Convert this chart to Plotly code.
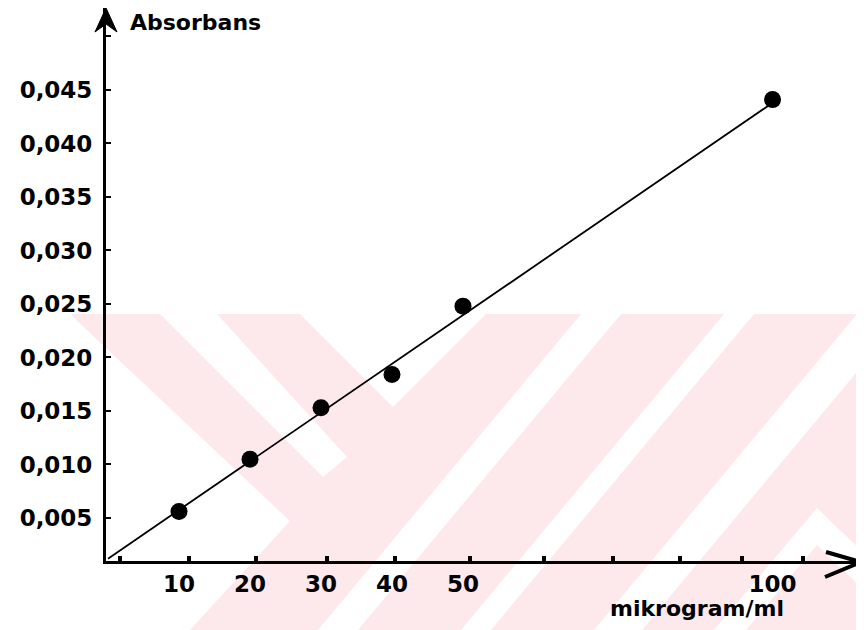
import plotly.graph_objects as go

# ---------------- data ----------------
conc = [10, 20, 30, 40, 50, 100]                       # mikrogram/ml
absorbance = [0.0056, 0.0105, 0.0153, 0.0184, 0.0248, 0.0441]
fit_conc = [0, 100]                                    # drawn calibration line
fit_abs = [0.0012, 0.0438]
x_label_conc = [10, 20, 30, 40, 50, 100]
x_label_text = ["10", "20", "30", "40", "50", "100"]
x_mark_pos = [1.7, 11.4, 20.8, 30.8, 40.4, 51.0, 61.4, 71.1, 80.6, 89.3, 97.9]
y_tick_vals = [0.005, 0.010, 0.015, 0.020, 0.025, 0.030, 0.035, 0.040, 0.045, 0.050]
y_tick_text = ["0,005", "0,010", "0,015", "0,020", "0,025", "0,030", "0,035", "0,040", "0,045", ""]

BREAK = 50      # the axis is compressed beyond 50 (broken axis)
SQUEEZE = 0.872


def axis_pos(c):
    return c if c <= BREAK else BREAK + (c - BREAK) * SQUEEZE


# ---------------- geometry (page offset of 8px body margin) ----------------
OFF = 8
W, H = 864 - OFF, 630 - OFF
L, R, T, B = 98, 6, 0, 69
PW, PH = W - L - R, H - T - B
PLOT_BOTTOM = H - B


def P(px, py):
    """page pixel -> paper coordinates"""
    return (px - OFF - L) / PW, (PLOT_BOTTOM - (py - OFF)) / PH


def path(points, close=True):
    s = ""
    for i, (px, py) in enumerate(points):
        x, y = P(px, py)
        s += ("M" if i == 0 else "L") + f"{x:.5f},{y:.5f} "
    return s + ("Z" if close else "")


font = dict(family="DejaVu Sans", size=23, color="black", weight="bold")
title_font = dict(family="DejaVu Sans", size=22, color="black", weight="bold")

fig = go.Figure()
fig.add_trace(go.Scatter(
    x=[axis_pos(c) for c in fit_conc], y=fit_abs, mode="lines",
    line=dict(color="black", width=1.8), hoverinfo="skip", showlegend=False))
fig.add_trace(go.Scatter(
    x=[axis_pos(c) for c in conc], y=absorbance, mode="markers",
    marker=dict(color="black", size=17), showlegend=False))

# ---------------- watermark (background decoration) ----------------
PINK = "#fde8ec"
shapes = [dict(type="path", xref="paper", yref="paper", layer="below",
               path=path([(72, 314), (870, 314), (870, 640), (72, 640)]),
               fillcolor=PINK, line=dict(width=0))]
whites = [
    [(160, 314), (217, 314), (347, 457), (323, 477)],
    [(72, 314), (72, 316), (290, 521), (190, 630), (190, 640), (72, 640)],
    [(300, 314), (393, 407), (486, 314)],
    [(581, 314), (621, 314), (358, 630), (318, 630)],
    [(724, 314), (754, 314), (491, 630), (461, 630)],
    [(857, 314), (905, 314), (642, 630), (594, 630)],
    [(817, 508), (870, 559), (870, 596), (817, 545), (746, 630), (714, 630)],
]
for poly in whites:
    shapes.append(dict(type="path", xref="paper", yref="paper", layer="below",
                       path=path(poly), fillcolor="white", line=dict(width=0)))

# axis arrows
shapes.append(dict(type="path", xref="paper", yref="paper", layer="above",
                   path=path([(95, 32), (106, 8), (117, 32), (106, 24)]),
                   fillcolor="black", line=dict(color="black", width=1)))
shapes.append(dict(type="path", xref="paper", yref="paper", layer="above",
                   path=path([(826, 552), (861, 562), (825, 577)], close=False),
                   line=dict(color="black", width=4)))

annotations = [
    dict(text="Absorbans", xref="paper", yref="paper", x=P(128, 0)[0], y=P(0, 23)[1],
         xanchor="left", yanchor="middle", showarrow=False, font=title_font),
    dict(text="mikrogram/ml", xref="paper", yref="paper", x=P(697, 0)[0], y=P(0, 608)[1],
         xanchor="center", yanchor="middle", showarrow=False, font=title_font),
]

xmin = -2 / 7.1
xmax = xmin + PW / 7.1
ymin = 0.00098
ymax = ymin + PH / 10700

fig.update_layout(
    width=W, height=H,
    margin=dict(l=L, r=R, t=T, b=B),
    paper_bgcolor="white", plot_bgcolor="rgba(0,0,0,0)",
    separators=",.",
    shapes=shapes, annotations=annotations,
    xaxis=dict(range=[xmin, xmax], showgrid=False, zeroline=False,
               showline=True, linecolor="black", linewidth=3,
               tickmode="array", tickvals=[axis_pos(c) for c in x_label_conc],
               ticktext=x_label_text, ticks="inside", ticklen=1,
               tickcolor="rgba(0,0,0,0)", tickfont=font,
               minor=dict(tickmode="array", tickvals=x_mark_pos, ticks="inside",
                          ticklen=5, tickwidth=4, tickcolor="black", showgrid=False)),
    yaxis=dict(range=[ymin, ymax], showgrid=False, zeroline=False,
               showline=True, linecolor="black", linewidth=3,
               tickmode="array", tickvals=y_tick_vals, ticktext=y_tick_text,
               ticks="inside", ticklen=5, tickwidth=2, tickcolor="black",
               tickfont=font, ticklabelstandoff=6),
)

fig.write_html("out.html")
